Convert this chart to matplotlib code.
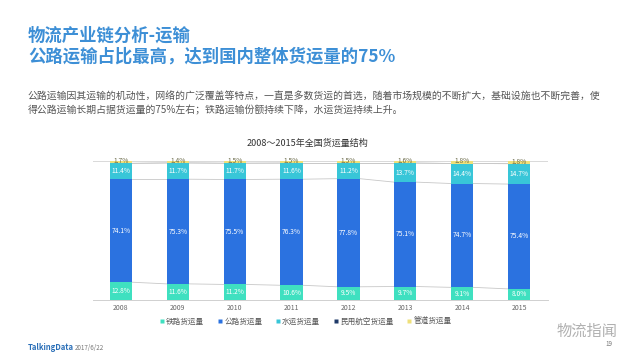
import matplotlib
matplotlib.use("Agg")
import matplotlib.pyplot as plt
from matplotlib.lines import Line2D
import numpy as np

plt.rcParams['font.family'] = ['Noto Sans CJK SC', 'DejaVu Sans']

years = ['2008', '2009', '2010', '2011', '2012', '2013', '2014', '2015']
series_names = ['铁路货运量', '公路货运量', '水运货运量', '民用航空货运量', '管道货运量']
rail = [12.8, 11.6, 11.2, 10.6, 9.5, 9.7, 9.1, 8.0]
road = [74.1, 75.3, 75.5, 76.3, 77.8, 75.1, 74.7, 75.4]
water = [11.4, 11.7, 11.7, 11.6, 11.2, 13.7, 14.4, 14.7]
air = [0.0, 0.0, 0.0, 0.0, 0.0, 0.0, 0.0, 0.0]
pipe = [1.7, 1.4, 1.5, 1.5, 1.5, 1.6, 1.8, 1.8]

colors = ['#3fe0c0', '#2b72e0', '#38c6d8', '#1f3a68', '#efe07a']
label_colors = ['white', 'white', 'white', 'white', '#6b6b4a']

fig = plt.figure(figsize=(6.4, 3.6), dpi=100)

# Header texts
title_color = '#3d8fd6'
fig.text(28/640, 1-36/360, '物流产业链分析-运输', fontsize=12.5, fontweight='bold',
         color=title_color, va='center', ha='left')
fig.text(28/640, 1-57/360, '公路运输占比最高，达到国内整体货运量的75%', fontsize=12.5,
         fontweight='bold', color=title_color, va='center', ha='left')
fig.text(28/640, 1-97/360,
         '公路运输因其运输的机动性，网络的广泛覆盖等特点，一直是多数货运的首选，随着市场规模的不断扩大，基础设施也不断完善，使',
         fontsize=7.1, color='#555555', va='center', ha='left')
fig.text(28/640, 1-110/360,
         '得公路运输长期占据货运量的75%左右；铁路运输份额持续下降，水运货运持续上升。',
         fontsize=7.1, color='#555555', va='center', ha='left')
fig.text(307/640, 1-143/360, '2008～2015年全国货运量结构', fontsize=6.5, color='#333333',
         va='center', ha='center')

ax = fig.add_axes([92.5/640, 1-300/360, 455/640, 139/360])
x = np.arange(len(years))
width = 0.39
data = [rail, road, water, air, pipe]
bottom = np.zeros(len(years))
cums = []
for vals, c, lc in zip(data, colors, label_colors):
    vals = np.array(vals)
    ax.bar(x, vals, width, bottom=bottom, color=c, edgecolor='none', zorder=3)
    for xi, v, b in zip(x, vals, bottom):
        if v > 0:
            ax.text(xi, b + v / 2 + (0.6 if c == colors[4] else 0), f'{v:.1f}%', ha='center', va='center',
                    fontsize=4.8, color=lc, zorder=4)
    bottom = bottom + vals
    cums.append(bottom.copy())

# series lines
for cum in cums[:-1]:
    for i in range(len(years) - 1):
        ax.plot([x[i] + width / 2, x[i + 1] - width / 2], [cum[i], cum[i + 1]],
                color='#c8c8c8', lw=0.6, zorder=2)

ax.set_xlim(-0.5, len(years) - 0.5)
ax.set_ylim(0, 100)
ax.axhline(100, color='#d9d9d9', lw=0.7, zorder=1)
ax.set_yticks([])
ax.set_xticks(x)
ax.set_xticklabels(years, fontsize=5, color='#666666')
ax.tick_params(axis='x', length=0, pad=3)
for s in ['top', 'right', 'left']:
    ax.spines[s].set_visible(False)
ax.spines['bottom'].set_color('#d0d0d0')
ax.spines['bottom'].set_linewidth(0.7)

handles = [Line2D([0], [0], marker='s', color='none', markerfacecolor=c, markeredgecolor='none',
                  markersize=3.5) for c in colors]
fig.legend(handles, series_names, loc='center', bbox_to_anchor=(305/640, 1-322/360), ncol=5,
           frameon=False, fontsize=5.5, handlelength=0.8, handletextpad=0.2, columnspacing=1.6,
           labelcolor='#555555')

# Footer
fig.text(28/640, 1-348/360, 'TalkingData', fontsize=5.5, color='#2a6fb8', va='center', ha='left',
         fontweight='bold')
fig.text(75/640, 1-348/360, '2017/6/22', fontsize=4.5, color='#777777', va='center', ha='left')
fig.text(612/640, 1-344/360, '19', fontsize=4.5, color='#777777', va='center', ha='right')
fig.text(587/640, 1-331/360, '物流指闻', fontsize=11, color='#b0b0b0', va='center', ha='center')

fig.savefig('out.png', dpi=100)
